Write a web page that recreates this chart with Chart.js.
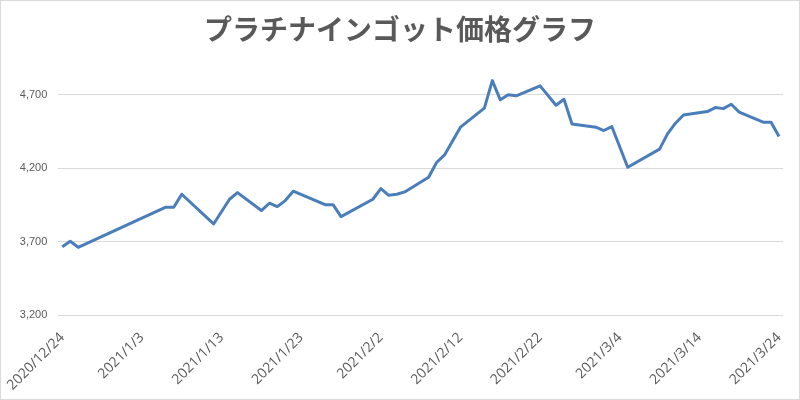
<!DOCTYPE html>
<html>
<head>
<meta charset="utf-8">
<script src="https://cdn.jsdelivr.net/npm/chart.js@4"></script>
<style>
  html, body { margin: 0; padding: 0; background: #fff; }
  #wrap { width: 800px; height: 400px; }
</style>
</head>
<body>
<div id="wrap"><canvas id="priceChart" width="800" height="400"></canvas></div>
<script>
// data
var dates = [
  '2020/12/24','2020/12/25','2020/12/26',
  '2021/1/6','2021/1/7','2021/1/8','2021/1/12','2021/1/14','2021/1/15',
  '2021/1/18','2021/1/19','2021/1/20','2021/1/21','2021/1/22',
  '2021/1/26','2021/1/27','2021/1/28',
  '2021/2/1','2021/2/2','2021/2/3','2021/2/4','2021/2/5',
  '2021/2/8','2021/2/9','2021/2/10','2021/2/12',
  '2021/2/15','2021/2/16','2021/2/17','2021/2/18','2021/2/19',
  '2021/2/22','2021/2/24','2021/2/25','2021/2/26',
  '2021/3/1','2021/3/2','2021/3/3','2021/3/5',
  '2021/3/9','2021/3/10','2021/3/11','2021/3/12',
  '2021/3/15','2021/3/16','2021/3/17','2021/3/18','2021/3/19',
  '2021/3/22','2021/3/23','2021/3/24'
];
var prices = [
  3667, 3704, 3663,
  3936, 3936, 4024, 3822, 3990, 4035,
  3913, 3963, 3940, 3981, 4045,
  3953, 3953, 3872,
  3990, 4062, 4017, 4024, 4040,
  4140, 4240, 4292, 4481,
  4610, 4798, 4667, 4701, 4694,
  4762, 4630, 4671, 4503,
  4481, 4458, 4485, 4208,
  4331, 4435, 4508, 4564,
  4587, 4614, 4607, 4637, 4583,
  4515, 4515, 4417
];
var xTickLabels = ['2020/12/24','2021/1/3','2021/1/13','2021/1/23','2021/2/2',
  '2021/2/12','2021/2/22','2021/3/4','2021/3/14','2021/3/24'];
var yTicks = [3200, 3700, 4200, 4700];

// day offset from the first date (x axis is a date axis)
function dayNum(s) {
  var p = s.split('/');
  var b = dates[0].split('/');
  return (Date.UTC(+p[0], p[1] - 1, +p[2]) - Date.UTC(+b[0], b[1] - 1, +b[2])) / 86400000;
}

var points = dates.map(function(d, i) { return { x: dayNum(d), y: prices[i] }; });
var xTickDays = xTickLabels.map(dayNum);

var borderPlugin = {
  id: 'outerBorder',
  beforeDraw: function(chart) {
    var c = chart.ctx;
    c.save();
    c.fillStyle = '#ffffff';
    c.fillRect(0, 0, chart.width, chart.height);
    c.strokeStyle = '#d9d9d9';
    c.lineWidth = 1;
    c.strokeRect(0.5, 0.5, chart.width - 1, chart.height - 1);
    c.restore();
  }
};

new Chart(document.getElementById('priceChart'), {
  type: 'line',
  data: {
    datasets: [{
      label: '価格',
      data: points,
      borderColor: '#4a7ebb',
      borderWidth: 3,
      borderJoinStyle: 'round',
      pointRadius: 0,
      tension: 0,
      fill: false
    }]
  },
  options: {
    responsive: false,
    animation: false,
    layout: { padding: { left: 17, right: 17, top: 0, bottom: 0 } },
    plugins: {
      legend: { display: false },
      tooltip: { enabled: false },
      title: {
        display: true,
        text: 'プラチナインゴット価格グラフ',
        color: '#595959',
        font: { family: '"Noto Sans CJK JP", sans-serif', size: 28, weight: 'bold', lineHeight: 1.2 },
        padding: { top: 13, bottom: 19 }
      }
    },
    scales: {
      x: {
        type: 'linear',
        min: -0.5,
        max: 90.5,
        afterBuildTicks: function(scale) {
          scale.ticks = xTickDays.map(function(v) { return { value: v }; });
        },
        afterFit: function(scale) {
          scale.height = 84.7;
          scale.paddingLeft = 0;
          scale.paddingRight = 0;
        },
        grid: { display: false },
        border: { display: false },
        ticks: {
          autoSkip: false,
          minRotation: 45,
          maxRotation: 45,
          padding: 6,
          color: '#595959',
          font: { family: '"Open Sans", sans-serif', size: 14 },
          callback: function(v) {
            var i = xTickDays.indexOf(v);
            return i >= 0 ? xTickLabels[i] : '';
          }
        }
      },
      y: {
        min: 3200,
        max: 4900,
        afterBuildTicks: function(scale) {
          scale.ticks = yTicks.map(function(v) { return { value: v }; });
        },
        afterFit: function(scale) {
          scale.width = 41.3;
        },
        grid: { color: '#d9d9d9', drawTicks: false },
        border: { display: false },
        ticks: {
          padding: 11,
          color: '#595959',
          font: { family: '"Liberation Sans", sans-serif', size: 11 },
          callback: function(v) { return v.toLocaleString('en-US'); }
        }
      }
    }
  },
  plugins: [borderPlugin]
});
</script>
</body>
</html>
